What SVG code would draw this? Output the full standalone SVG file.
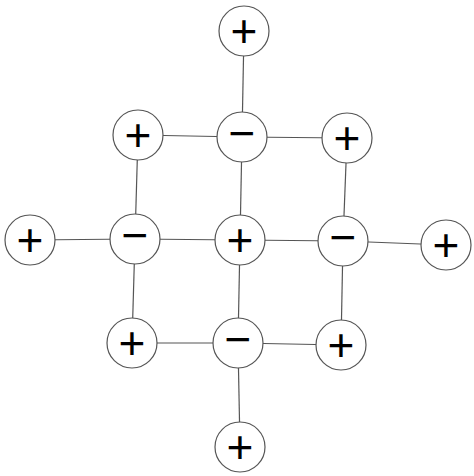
<svg xmlns="http://www.w3.org/2000/svg" width="474" height="476" viewBox="0 0 474 476">
<style>
.n circle{fill:#fff;stroke:#555;stroke-width:1.2}
.n text{font-family:"Liberation Sans",Arial,sans-serif;font-size:46px;fill:#000;text-anchor:middle}
#edges line{stroke:#555;stroke-width:1.2}
</style>
<rect width="474" height="476" fill="#fff"/>
<g id="edges">
<line x1="244" y1="31" x2="242" y2="137"/>
<line x1="138" y1="135" x2="242" y2="137"/>
<line x1="242" y1="137" x2="347" y2="138"/>
<line x1="138" y1="135" x2="135" y2="239"/>
<line x1="242" y1="137" x2="240" y2="240"/>
<line x1="347" y1="138" x2="343" y2="241"/>
<line x1="30" y1="240" x2="135" y2="239"/>
<line x1="135" y1="239" x2="240" y2="240"/>
<line x1="240" y1="240" x2="343" y2="241"/>
<line x1="343" y1="241" x2="446" y2="245"/>
<line x1="135" y1="239" x2="132" y2="343"/>
<line x1="240" y1="240" x2="238" y2="343"/>
<line x1="343" y1="241" x2="341" y2="345"/>
<line x1="132" y1="343" x2="238" y2="343"/>
<line x1="238" y1="343" x2="341" y2="345"/>
<line x1="238" y1="343" x2="240" y2="447"/>
</g>
<g id="n1" class="n"><circle cx="244" cy="31" r="25"/><text x="244" y="47">+</text></g>
<g id="n2" class="n"><circle cx="242" cy="137" r="25"/><text x="242" y="149">−</text></g>
<g id="n3" class="n"><circle cx="138" cy="135" r="25"/><text x="138" y="151">+</text></g>
<g id="n4" class="n"><circle cx="347" cy="138" r="25"/><text x="347" y="154">+</text></g>
<g id="n5" class="n"><circle cx="30" cy="240" r="25"/><text x="30" y="256">+</text></g>
<g id="n6" class="n"><circle cx="135" cy="239" r="25"/><text x="135" y="251">−</text></g>
<g id="n7" class="n"><circle cx="240" cy="240" r="25"/><text x="240" y="256">+</text></g>
<g id="n8" class="n"><circle cx="343" cy="241" r="25"/><text x="343" y="253">−</text></g>
<g id="n9" class="n"><circle cx="446" cy="245" r="25"/><text x="446" y="261">+</text></g>
<g id="n10" class="n"><circle cx="132" cy="343" r="25"/><text x="132" y="359">+</text></g>
<g id="n11" class="n"><circle cx="238" cy="343" r="25"/><text x="238" y="355">−</text></g>
<g id="n12" class="n"><circle cx="341" cy="345" r="25"/><text x="341" y="361">+</text></g>
<g id="n13" class="n"><circle cx="240" cy="447" r="25"/><text x="240" y="463">+</text></g>
</svg>
